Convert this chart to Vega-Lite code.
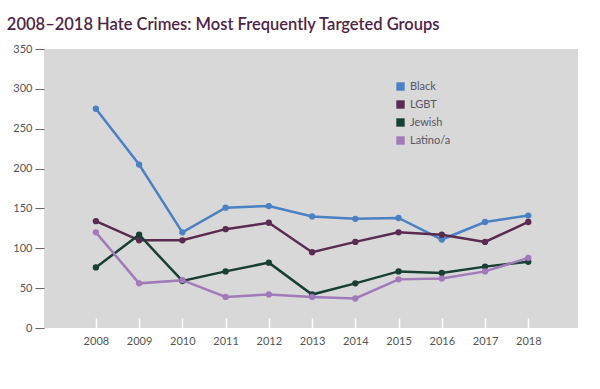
{
  "$schema": "https://vega.github.io/schema/vega-lite/v6.json",
  "width": 534,
  "height": 279,
  "autosize": {"type": "none"},
  "padding": {"left": 44, "top": 49, "right": 22, "bottom": 61},
  "background": "#ffffff",
  "title": {
    "text": "2008–2018 Hate Crimes: Most Frequently Targeted Groups",
    "anchor": "start",
    "dx": -6,
    "offset": 10,
    "font": "Lato",
    "fontSize": 16.5,
    "fontWeight": 600,
    "color": "#4f2447"
  },
  "config": {
    "view": {"fill": "#d9d8d8", "stroke": null},
    "font": "Lato"
  },
  "data": {
    "values": [
      {"year": 2008, "group": "Black", "value": 275},
      {"year": 2009, "group": "Black", "value": 205},
      {"year": 2010, "group": "Black", "value": 120},
      {"year": 2011, "group": "Black", "value": 151},
      {"year": 2012, "group": "Black", "value": 153},
      {"year": 2013, "group": "Black", "value": 140},
      {"year": 2014, "group": "Black", "value": 137},
      {"year": 2015, "group": "Black", "value": 138},
      {"year": 2016, "group": "Black", "value": 111},
      {"year": 2017, "group": "Black", "value": 133},
      {"year": 2018, "group": "Black", "value": 141},
      {"year": 2008, "group": "LGBT", "value": 134},
      {"year": 2009, "group": "LGBT", "value": 110},
      {"year": 2010, "group": "LGBT", "value": 110},
      {"year": 2011, "group": "LGBT", "value": 124},
      {"year": 2012, "group": "LGBT", "value": 132},
      {"year": 2013, "group": "LGBT", "value": 95},
      {"year": 2014, "group": "LGBT", "value": 108},
      {"year": 2015, "group": "LGBT", "value": 120},
      {"year": 2016, "group": "LGBT", "value": 117},
      {"year": 2017, "group": "LGBT", "value": 108},
      {"year": 2018, "group": "LGBT", "value": 133},
      {"year": 2008, "group": "Jewish", "value": 76},
      {"year": 2009, "group": "Jewish", "value": 117},
      {"year": 2010, "group": "Jewish", "value": 59},
      {"year": 2011, "group": "Jewish", "value": 71},
      {"year": 2012, "group": "Jewish", "value": 82},
      {"year": 2013, "group": "Jewish", "value": 42},
      {"year": 2014, "group": "Jewish", "value": 56},
      {"year": 2015, "group": "Jewish", "value": 71},
      {"year": 2016, "group": "Jewish", "value": 69},
      {"year": 2017, "group": "Jewish", "value": 77},
      {"year": 2018, "group": "Jewish", "value": 83},
      {"year": 2008, "group": "Latino/a", "value": 120},
      {"year": 2009, "group": "Latino/a", "value": 56},
      {"year": 2010, "group": "Latino/a", "value": 60},
      {"year": 2011, "group": "Latino/a", "value": 39},
      {"year": 2012, "group": "Latino/a", "value": 42},
      {"year": 2013, "group": "Latino/a", "value": 39},
      {"year": 2014, "group": "Latino/a", "value": 37},
      {"year": 2015, "group": "Latino/a", "value": 61},
      {"year": 2016, "group": "Latino/a", "value": 62},
      {"year": 2017, "group": "Latino/a", "value": 71},
      {"year": 2018, "group": "Latino/a", "value": 88}
    ]
  },
  "encoding": {
    "x": {
      "field": "year",
      "type": "quantitative",
      "scale": {"domain": [2006.8, 2019.15], "nice": false, "zero": false},
      "axis": {
        "title": null,
        "values": [2008, 2009, 2010, 2011, 2012, 2013, 2014, 2015, 2016, 2017, 2018],
        "format": "d",
        "grid": false,
        "domain": false,
        "tickColor": "#ffffff",
        "tickWidth": 1.5,
        "tickSize": -10,
        "labelPadding": 17,
        "labelColor": "#555555",
        "labelFontSize": 11
      }
    },
    "y": {
      "field": "value",
      "type": "quantitative",
      "scale": {"domain": [0, 350], "nice": false},
      "axis": {
        "title": null,
        "values": [0, 50, 100, 150, 200, 250, 300, 350],
        "grid": false,
        "domain": false,
        "tickColor": "#666666",
        "tickSize": 9,
        "labelPadding": 3,
        "labelColor": "#555555",
        "labelFontSize": 11
      }
    },
    "color": {
      "field": "group",
      "type": "nominal",
      "sort": ["Black", "LGBT", "Jewish", "Latino/a"],
      "scale": {
        "domain": ["Black", "LGBT", "Jewish", "Latino/a"],
        "range": ["#4a80c4", "#5a2a50", "#173f33", "#a07ab9"]
      },
      "legend": {
        "title": null,
        "orient": "none",
        "legendX": 351,
        "legendY": 32,
        "symbolType": "square",
        "symbolSize": 70,
        "symbolStrokeWidth": 0,
        "symbolOpacity": 1,
        "labelColor": "#555566",
        "labelFontSize": 11,
        "rowPadding": 6,
        "labelOffset": 4
      }
    }
  },
  "layer": [
    {"mark": {"type": "line", "strokeWidth": 2.5}},
    {"mark": {"type": "point", "filled": true, "size": 40, "opacity": 1}}
  ]
}
